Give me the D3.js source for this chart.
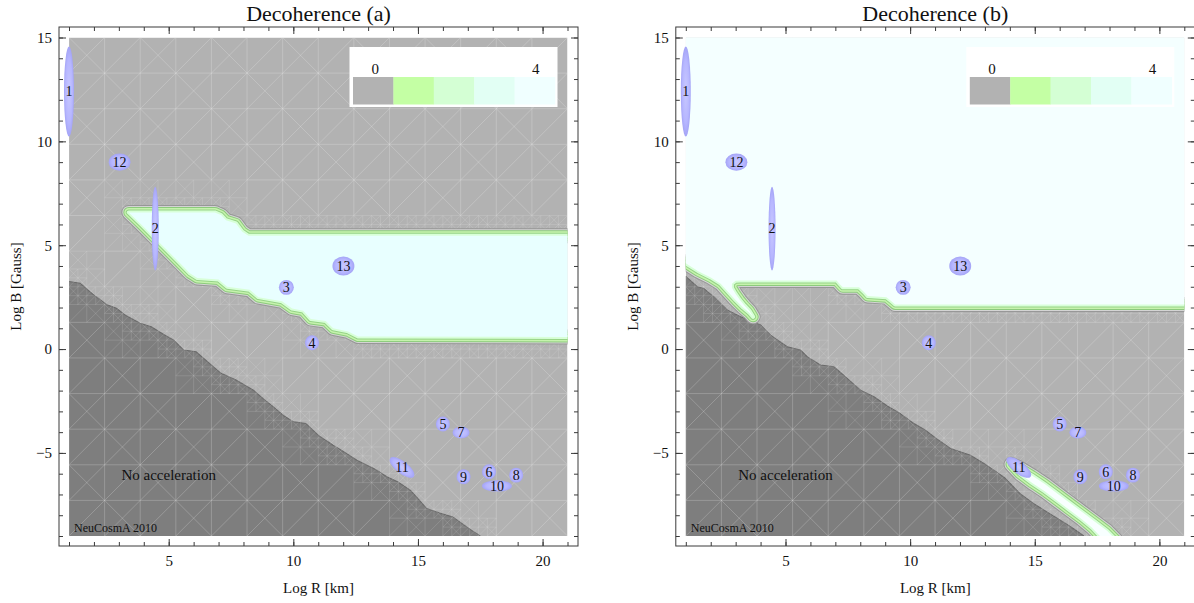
<!DOCTYPE html>
<html>
<head>
<meta charset="utf-8">
<script src="https://cdn.jsdelivr.net/npm/d3@7"></script>
<style>
  body { margin: 0; background: #fff; }
  svg { display: block; }
  text { font-family: "Liberation Serif", "Times New Roman", serif; fill: #111; }
</style>
</head>
<body>
<svg id="chart" width="1194" height="603"></svg>
<script>
// ---- data -------------------------------------------------------------
const panelTitles = ["Decoherence (a)", "Decoherence (b)"];
const xLabel = "Log R [km]";
const yLabel = "Log B [Gauss]";
const xDomain = [1, 21];
const yDomain = [-9, 15];
const xTicksMajor = [5, 10, 15, 20];
const yTicksMajor = [-5, 0, 5, 10, 15];
const xTicksMinor = d3.range(1, 22);
const yTicksMinor = d3.range(-9, 16);

const legendColors = ["#b2b2b2", "#c4ffa4", "#d4ffd4", "#e2fff4", "#f0ffff"];
const legendTickLabels = ["0", "4"];

// sources: label, log R, log B, half extent in log R / log B, tilt (deg)
const sourceLabels = ["1", "2", "3", "4", "5", "6", "7", "8", "9", "10", "11", "12", "13"];
const sourceLogR   = [1.0, 4.46, 9.72, 10.75, 16.0, 17.85, 16.73, 18.94, 16.83, 18.17, 14.36, 3.03, 12.01];
const sourceLogB   = [12.4, 5.8, 2.97, 0.3, -3.61, -5.91, -4.02, -6.07, -6.15, -6.59, -5.7, 9.0, 4.0];
const sourceHalfR  = [0.2, 0.14, 0.3, 0.28, 0.28, 0.28, 0.34, 0.28, 0.28, 0.6, 0.6, 0.44, 0.44];
const sourceHalfB  = [2.17, 2.02, 0.36, 0.36, 0.36, 0.36, 0.29, 0.36, 0.36, 0.27, 0.29, 0.41, 0.46];
const sourceTilt   = [0, 0, 0, 0, 0, 0, 0, 0, 0, 0, 38, 0, 0];

// "no acceleration" boundary (below-left of it: no acceleration)
const darkEdgeA = [[1.0,3.25],[1.45,3.17],[1.75,2.85],[2.0,2.6],[2.5,2.15],[2.9,1.96],[3.3,1.6],[3.85,1.24],[4.3,1.07],[4.8,0.7],[5.2,0.43],[5.6,-0.05],[6.1,-0.13],[6.6,-0.65],[7.1,-1.17],[7.7,-1.49],[8.4,-1.98],[8.8,-2.4],[9.2,-2.78],[9.6,-3.2],[10.0,-3.5],[10.5,-3.58],[11.05,-4.2],[11.6,-4.63],[12.1,-5.0],[12.55,-5.35],[13.3,-5.8],[13.75,-6.15],[14.2,-6.4],[14.7,-6.8],[15.0,-7.2],[15.35,-7.68],[15.9,-7.9],[16.4,-8.08],[16.95,-8.56],[17.25,-8.8],[17.5,-9.0]];
const darkEdgeB = [[1.0,3.5],[1.46,3.0],[1.72,2.92],[2.12,2.52],[2.66,1.88],[3.2,1.56],[4.0,1.16],[4.4,0.67],[5.07,0.11],[5.6,-0.05],[5.87,-0.37],[6.4,-0.77],[6.94,-0.85],[7.48,-1.41],[8.01,-1.98],[8.55,-2.3],[9.1,-2.75],[9.6,-3.1],[10.1,-3.55],[10.6,-3.9],[11.1,-4.35],[11.62,-4.79],[12.42,-5.11],[12.96,-5.51],[13.36,-5.83],[13.8,-6.2],[14.4,-6.95],[14.96,-7.44],[15.5,-7.85],[16.03,-8.24],[16.5,-8.6],[16.97,-9.0]];

// level-4 plateau, panel (a)
const plateauTopA = [[3.4,6.58],[6.85,6.58],[7.1,6.45],[7.3,6.2],[7.7,6.05],[7.95,5.65],[8.2,5.45],[22,5.45]];
const plateauBottomA = [[3.4,6.58],[3.9,6.0],[4.4,5.4],[4.9,4.8],[5.4,4.2],[5.85,3.65],[6.15,3.42],[7.0,3.35],[7.35,3.0],[8.25,2.85],[8.6,2.5],[9.55,2.3],[9.95,1.95],[10.4,1.85],[10.7,1.45],[11.3,1.35],[11.6,1.0],[12.2,0.85],[12.6,0.6],[22,0.58]];

// level-4 plateau, panel (b): everything above this edge
const plateauEdgeB = [[0.5,4.5],[1.0,4.13],[1.5,3.75],[2.0,3.45],[2.4,3.15],[2.7,2.75],[3.0,2.36],[3.3,2.0],[3.55,1.75],[3.7,1.55],[3.55,1.85],[3.35,2.1],[3.17,2.36],[3.0,2.65],[2.85,2.95],[2.85,3.15],[3.0,3.29],[3.2,3.3],[7.05,3.3],[7.2,3.1],[7.3,2.97],[7.95,2.97],[8.15,2.75],[8.3,2.55],[9.05,2.5],[9.25,2.3],[9.4,2.15],[22,2.15]];
// narrow strip along the no-acceleration edge, panel (b)
const stripLeftB = [[14.05,-5.55],[14.4,-6.0],[14.9,-6.45],[15.4,-6.85],[15.9,-7.3],[16.4,-7.75],[16.9,-8.2],[17.3,-8.6],[17.85,-9.3]];
const stripRightB = [[14.35,-5.7],[14.9,-6.1],[15.4,-6.5],[15.9,-6.95],[16.4,-7.4],[16.9,-7.85],[17.4,-8.3],[17.9,-8.75],[18.35,-9.3]];

// ---- drawing -----------------------------------------------------------
const svg = d3.select("#chart");
const defs = svg.append("defs");
const grad = defs.append("radialGradient").attr("id", "srcFill");
grad.append("stop").attr("offset", "0%").attr("stop-color", "#c8c8ff");
grad.append("stop").attr("offset", "70%").attr("stop-color", "#b6b6ff");
grad.append("stop").attr("offset", "100%").attr("stop-color", "#a4a4f6");

const panelShift = 616.8;
const plotBox = { left: 69, right: 567.5, top: 37.5, bottom: 536 };
const framePad = 10;

// band strokes around a level boundary, widest (outermost) first
const bandLayers = [
  { w: 15, c: "#979797" },
  { w: 13, c: "#d4d4d4" },
  { w: 11, c: "#8ccb7c" },
  { w: 9,  c: "#c6f3ae" },
  { w: 6,  c: "#96d386" },
  { w: 4,  c: "#d8ffd8" }
];

function segDist(px, py, ax, ay, bx, by) {
  const dx = bx - ax, dy = by - ay;
  const l2 = dx * dx + dy * dy;
  let t = l2 ? ((px - ax) * dx + (py - ay) * dy) / l2 : 0;
  t = Math.max(0, Math.min(1, t));
  const qx = ax + t * dx - px, qy = ay + t * dy - py;
  return Math.sqrt(qx * qx + qy * qy);
}

function minDist(px, py, lines) {
  let d = Infinity;
  for (const pts of lines) {
    for (let i = 1; i < pts.length; i++) {
      d = Math.min(d, segDist(px, py, pts[i-1][0], pts[i-1][1], pts[i][0], pts[i][1]));
    }
  }
  return d;
}

// adaptive triangulation mesh of the plotted field, finer near boundaries
function meshPaths(lines, left, right, top, bottom) {
  const n = 14;
  const w0 = (right - left) / n;
  const h0 = (bottom - top) / n;
  const coarse = [], fine = [];
  function cell(x, y, w, h, depth) {
    const d = minDist(x + w / 2, y + h / 2, lines);
    if (depth < 2 && d < Math.max(w, h) * 0.75) {
      const hw = w / 2, hh = h / 2;
      cell(x, y, hw, hh, depth + 1);
      cell(x + hw, y, hw, hh, depth + 1);
      cell(x, y + hh, hw, hh, depth + 1);
      cell(x + hw, y + hh, hw, hh, depth + 1);
      return;
    }
    const out = depth === 0 ? coarse : fine;
    out.push(`M${x},${y}h${w}M${x},${y}v${h}M${x},${y + h}L${x + w},${y}`);
    const k = Math.round((x - left) / w) + Math.round((y - top) / h);
    if (k % 2 === 0) out.push(`M${x},${y}L${x + w},${y + h}`);
  }
  for (let i = 0; i < n; i++) for (let j = 0; j < n; j++) {
    cell(left + i * w0, top + j * h0, w0, h0, 0);
  }
  return [coarse.join(""), fine.join("")];
}

function drawPanel(idx) {
  const dx = idx * panelShift;
  const x = d3.scaleLinear().domain(xDomain).range([plotBox.left + dx, plotBox.right + dx]);
  const y = d3.scaleLinear().domain(yDomain).range([plotBox.bottom, plotBox.top]);
  const [pl, pr] = x.range();
  const [pb, pt] = y.range();
  const frame = { left: pl - framePad, right: pr + framePad + 0.5, top: pt - framePad - 0.5, bottom: pb + framePad };
  const g = svg.append("g");
  const clipId = "clip" + idx;
  defs.append("clipPath").attr("id", clipId).append("rect")
    .attr("x", pl).attr("y", pt).attr("width", pr - pl).attr("height", pb - pt);

  const plot = g.append("g").attr("clip-path", `url(#${clipId})`);
  const line = d3.line().x(d => x(d[0])).y(d => y(d[1]));

  // level 0 background
  plot.append("rect").attr("x", pl).attr("y", pt).attr("width", pr - pl).attr("height", pb - pt)
    .attr("fill", legendColors[0]);

  // no-acceleration region
  const darkEdge = idx === 0 ? darkEdgeA : darkEdgeB;
  const last = darkEdge[darkEdge.length - 1];
  const darkPoly = [[0.5, darkEdge[0][1]], ...darkEdge, [last[0] + 0.1, -9.6], [0.5, -9.6]];
  plot.append("path").attr("d", line(darkPoly) + "Z").attr("fill", "#7e7e7e");
  plot.append("path").attr("d", line(darkEdge)).attr("fill", "none")
    .attr("stroke", "#6a6a6a").attr("stroke-width", 1.1);

  // plateau regions
  let plateaus, plateauEdges;
  if (idx === 0) {
    plateaus = [{ pts: [...plateauTopA, ...plateauBottomA.slice().reverse()], fill: "#e8ffff" }];
    plateauEdges = [plateauTopA, plateauBottomA];
  } else {
    plateaus = [
      { pts: [...plateauEdgeB, [22, 16], [0.5, 16]], fill: "#f4ffff" },
      { pts: [...stripLeftB, ...stripRightB.slice().reverse()], fill: "#f8ffff" }
    ];
    plateauEdges = [plateauEdgeB, stripLeftB, stripRightB];
  }

  // mesh
  const toPx = pts => pts.map(d => [x(d[0]), y(d[1])]);
  const meshLines = [toPx(darkEdge), ...plateauEdges.map(toPx)];
  const [meshCoarse, meshFine] = meshPaths(meshLines, pl, pr, pt, pb);
  plot.append("path").attr("d", meshCoarse)
    .attr("fill", "none").attr("stroke", "#ffffff").attr("stroke-opacity", 0.26).attr("stroke-width", 0.8);
  plot.append("path").attr("d", meshFine)
    .attr("fill", "none").attr("stroke", "#ffffff").attr("stroke-opacity", 0.18).attr("stroke-width", 0.7);

  // banded level boundaries and plateau fill
  plateaus.forEach(p => {
    const d = line(p.pts) + "Z";
    bandLayers.forEach(b => {
      plot.append("path").attr("d", d).attr("fill", "none")
        .attr("stroke", b.c).attr("stroke-width", b.w).attr("stroke-linejoin", "round");
    });
    plot.append("path").attr("d", d).attr("fill", p.fill);
  });

  plot.append("text").attr("x", x(5.0)).attr("y", y(-6.04)).attr("dy", "0.35em")
    .attr("text-anchor", "middle").attr("font-size", 15).text("No acceleration");
  plot.append("text").attr("x", pl + 5).attr("y", pb - 4)
    .attr("font-size", 12).text("NeuCosmA 2010");

  // legend
  const lgW = 208, lgH = 60;
  const lgX = pr - 10 - lgW, lgY = pt + 9.5;
  const lg = plot.append("g");
  lg.append("rect").attr("x", lgX).attr("y", lgY).attr("width", lgW).attr("height", lgH).attr("fill", "#fff");
  const sw = (lgW - 6) / legendColors.length;
  legendColors.forEach((c, i) => {
    lg.append("rect").attr("x", lgX + 3.5 + i * sw).attr("y", lgY + 30)
      .attr("width", sw + 0.3).attr("height", 27.5).attr("fill", c);
  });
  [0, legendColors.length - 1].forEach((k, j) => {
    lg.append("text").attr("x", lgX + 3.5 + (k + 0.5) * sw + (j ? 1 : 2)).attr("y", lgY + 27)
      .attr("text-anchor", "middle").attr("font-size", 15).text(legendTickLabels[j]);
  });

  // sources (not clipped: they may reach past the plot edge)
  const src = g.append("g");
  sourceLabels.forEach((lab, i) => {
    const cx = x(sourceLogR[i]), cy = y(sourceLogB[i]);
    const rx = x(sourceLogR[i] + sourceHalfR[i]) - cx;
    const ry = cy - y(sourceLogB[i] + sourceHalfB[i]);
    src.append("ellipse").attr("cx", cx).attr("cy", cy).attr("rx", rx).attr("ry", ry)
      .attr("transform", `rotate(${sourceTilt[i]},${cx},${cy})`)
      .attr("fill", "url(#srcFill)");
    src.append("text").attr("x", cx).attr("y", cy).attr("dy", "0.35em")
      .attr("text-anchor", "middle").attr("font-size", 14).text(lab);
  });

  // frame
  g.append("rect").attr("x", frame.left).attr("y", frame.top)
    .attr("width", frame.right - frame.left).attr("height", frame.bottom - frame.top)
    .attr("fill", "none").attr("stroke", "#3a3a3a").attr("stroke-width", 1);

  const styleAxis = sel => {
    sel.select(".domain").remove();
    sel.selectAll("line").attr("stroke", "#3a3a3a");
    sel.selectAll("text").attr("font-size", 15).attr("font-family", null);
  };
  const addAxis = (axis, tx, ty) => g.append("g").attr("transform", `translate(${tx},${ty})`).call(axis).call(styleAxis);

  // bottom
  addAxis(d3.axisBottom(x).tickValues(xTicksMinor).tickSize(-4).tickFormat(""), 0, frame.bottom);
  addAxis(d3.axisBottom(x).tickValues(xTicksMajor).tickSize(-7).tickPadding(9).tickFormat(d3.format("d")), 0, frame.bottom);
  // top
  addAxis(d3.axisTop(x).tickValues(xTicksMinor).tickSize(-4).tickFormat(""), 0, frame.top);
  addAxis(d3.axisTop(x).tickValues(xTicksMajor).tickSize(-7).tickFormat(""), 0, frame.top);
  // left
  addAxis(d3.axisLeft(y).tickValues(yTicksMinor).tickSize(-4).tickFormat(""), frame.left, 0);
  addAxis(d3.axisLeft(y).tickValues(yTicksMajor).tickSize(-7).tickPadding(7).tickFormat(d3.format("d")), frame.left, 0);
  // right
  addAxis(d3.axisRight(y).tickValues(yTicksMinor).tickSize(-4).tickFormat(""), frame.right, 0);
  addAxis(d3.axisRight(y).tickValues(yTicksMajor).tickSize(-7).tickFormat(""), frame.right, 0);

  const cx = (frame.left + frame.right) / 2;
  g.append("text").attr("x", cx).attr("y", 21).attr("text-anchor", "middle")
    .attr("font-size", 22).text(panelTitles[idx]);
  g.append("text").attr("x", cx).attr("y", 593).attr("text-anchor", "middle")
    .attr("font-size", 15).text(xLabel);
  g.append("text").attr("transform", `translate(${frame.left - 38},${(frame.top + frame.bottom) / 2}) rotate(-90)`)
    .attr("text-anchor", "middle").attr("font-size", 15).text(yLabel);
}

drawPanel(0);
drawPanel(1);
</script>
</body>
</html>
